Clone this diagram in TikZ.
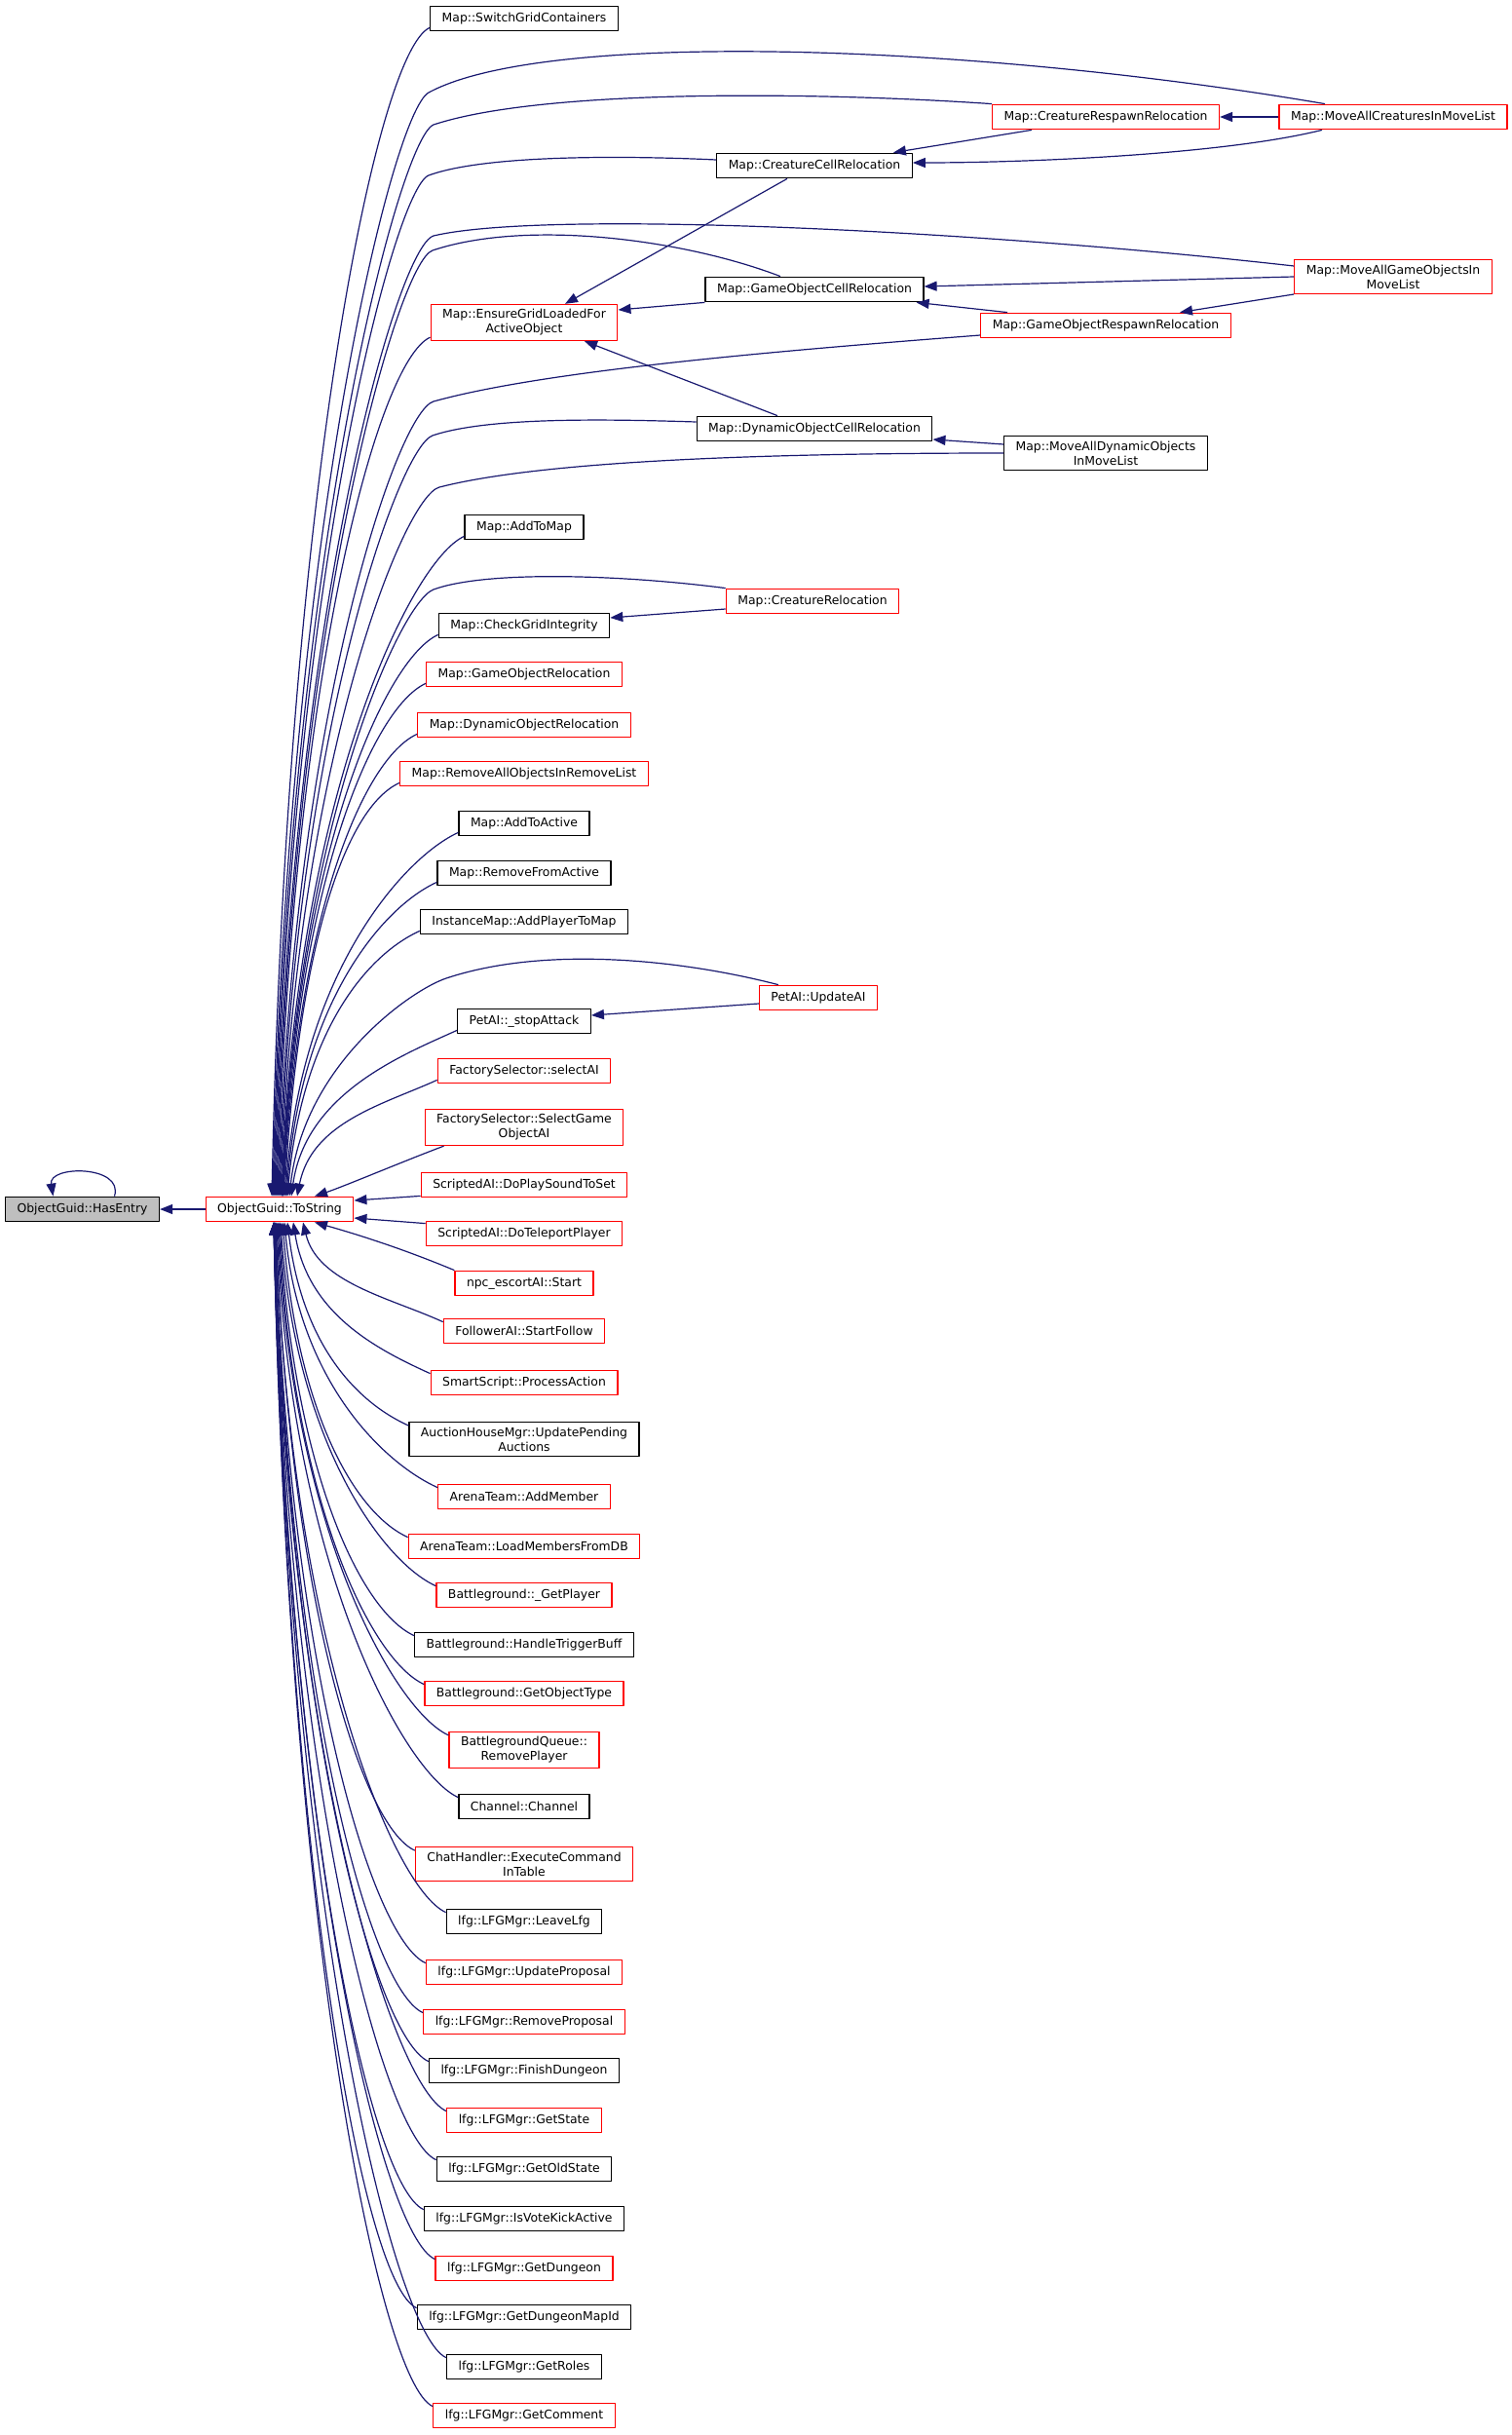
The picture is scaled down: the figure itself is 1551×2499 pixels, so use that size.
\documentclass[tikz,border=0pt]{standalone}
\usepackage{fontspec}
\setmainfont{DejaVu Sans}
\usetikzlibrary{arrows.meta}
\definecolor{edgeblue}{RGB}{25,25,112}
\definecolor{cutred}{RGB}{255,0,0}
\definecolor{selgray}{RGB}{191,191,191}

\begin{document}
\begin{tikzpicture}[x=1pt,y=-1pt,line join=round,
  fn/.style={draw=black,line width=1.3pt,inner xsep=12pt,inner ysep=5pt,minimum height=25.5pt,
    align=center,font=\fontsize{12.4}{15}\selectfont},
  cut/.style={fn,draw=cutred},
  call/.style={draw=edgeblue,line width=1.2pt,-{Triangle[length=13pt,width=10pt]}}]
  \useasboundingbox (0,0) rectangle (1551,2499);
  \def\ca{538}
  \def\cb{836}
  \def\cc{1135}
  \def\cd{1430}

  % the function and its caller
  \node[fn,fill=selgray] (he) at (84.5,1241) {ObjectGuid::HasEntry};
  \node[cut] (ts) at (287,1241) {ObjectGuid::ToString};

  % first column of callers
  \node[fn]  (sgc)  at (\ca,19)   {Map::SwitchGridContainers};
  \node[cut] (egl)  at (\ca,331)  {Map::EnsureGridLoadedFor\\ActiveObject};
  \node[fn]  (atm)  at (\ca,541)  {Map::AddToMap};
  \node[fn]  (cgi)  at (\ca,642)  {Map::CheckGridIntegrity};
  \node[cut] (gor)  at (\ca,692)  {Map::GameObjectRelocation};
  \node[cut] (dor)  at (\ca,744)  {Map::DynamicObjectRelocation};
  \node[cut] (rar)  at (\ca,794)  {Map::RemoveAllObjectsInRemoveList};
  \node[fn]  (ata)  at (\ca,845)  {Map::AddToActive};
  \node[fn]  (rfa)  at (\ca,896)  {Map::RemoveFromActive};
  \node[fn]  (ipm)  at (\ca,946)  {InstanceMap::AddPlayerToMap};
  \node[fn]  (psa)  at (\ca,1048) {PetAI::\_stopAttack};
  \node[cut] (fss)  at (\ca,1099) {FactorySelector::selectAI};
  \node[cut] (fsg)  at (\ca,1157) {FactorySelector::SelectGame\\ObjectAI};
  \node[cut] (dps)  at (\ca,1216) {ScriptedAI::DoPlaySoundToSet};
  \node[cut] (dtp)  at (\ca,1266) {ScriptedAI::DoTeleportPlayer};
  \node[cut] (npc)  at (\ca,1317) {npc\_escortAI::Start};
  \node[cut] (sfo)  at (\ca,1366) {FollowerAI::StartFollow};
  \node[cut] (spa)  at (\ca,1419) {SmartScript::ProcessAction};
  \node[fn]  (ahm)  at (\ca,1477) {AuctionHouseMgr::UpdatePending\\Auctions};
  \node[cut] (atam) at (\ca,1536) {ArenaTeam::AddMember};
  \node[cut] (atlm) at (\ca,1587) {ArenaTeam::LoadMembersFromDB};
  \node[cut] (bgp)  at (\ca,1637) {Battleground::\_GetPlayer};
  \node[fn]  (bgh)  at (\ca,1688) {Battleground::HandleTriggerBuff};
  \node[cut] (bgo)  at (\ca,1738) {Battleground::GetObjectType};
  \node[cut] (bgq)  at (\ca,1796) {BattlegroundQueue::\\RemovePlayer};
  \node[fn]  (chn)  at (\ca,1854) {Channel::Channel};
  \node[cut] (chx)  at (\ca,1913) {ChatHandler::ExecuteCommand\\InTable};
  \node[fn]  (lfl)  at (\ca,1972) {lfg::LFGMgr::LeaveLfg};
  \node[cut] (lup)  at (\ca,2024) {lfg::LFGMgr::UpdateProposal};
  \node[cut] (lrp)  at (\ca,2075) {lfg::LFGMgr::RemoveProposal};
  \node[fn]  (lfd)  at (\ca,2125) {lfg::LFGMgr::FinishDungeon};
  \node[cut] (lgs)  at (\ca,2176) {lfg::LFGMgr::GetState};
  \node[fn]  (lgo)  at (\ca,2226) {lfg::LFGMgr::GetOldState};
  \node[fn]  (lvk)  at (\ca,2277) {lfg::LFGMgr::IsVoteKickActive};
  \node[cut] (lgd)  at (\ca,2328) {lfg::LFGMgr::GetDungeon};
  \node[fn]  (lgm)  at (\ca,2378) {lfg::LFGMgr::GetDungeonMapId};
  \node[fn]  (lgr)  at (\ca,2429) {lfg::LFGMgr::GetRoles};
  \node[cut] (lgc)  at (\ca,2479) {lfg::LFGMgr::GetComment};

  % callers further right
  \node[fn]  (ccr)   at (\cb,170)  {Map::CreatureCellRelocation};
  \node[fn]  (gocr)  at (\cb,297)  {Map::GameObjectCellRelocation};
  \node[fn]  (docr)  at (\cb,440)  {Map::DynamicObjectCellRelocation};
  \node[cut] (cr)    at (834,617)  {Map::CreatureRelocation};
  \node[cut] (uai)   at (840,1024) {PetAI::UpdateAI};
  \node[cut] (crr)   at (\cc,120)  {Map::CreatureRespawnRelocation};
  \node[cut] (gorr)  at (\cc,334)  {Map::GameObjectRespawnRelocation};
  \node[fn]  (madyn) at (\cc,465)  {Map::MoveAllDynamicObjects\\InMoveList};
  \node[cut] (mac)   at (\cd,120)  {Map::MoveAllCreaturesInMoveList};
  \node[cut] (magio) at (\cd,284)  {Map::MoveAllGameObjectsIn\\MoveList};

  \draw[call] (ts) -- (he);
  \draw[call] ([xshift=33pt]he.north) .. controls +(10,-32) and +(-5,-32) .. ([xshift=-30pt]he.north);

  % callers above ToString
  \foreach \n/\e/\h in {sgc/-8/720, egl/-2/529, atm/2/410, cgi/3/350, gor/3.5/320, dor/4/290,
      rar/5/260, ata/6/230, rfa/7/200, ipm/8/168, psa/12/106, fss/18/76}
    \draw[call] ([yshift=4pt]\n.south west) .. controls +(-55,25) and +(15,-\h) .. ([xshift=\e pt]ts.north);
  \draw[call] ([xshift=20pt]fsg.south west) .. controls +(-40,15) and +(30,-10) .. ([xshift=36pt]ts.north);
  \draw[call] ([yshift=2pt]dps.south west) -- ([yshift=9pt]ts.east);

  % long callers arching over from the right
  \draw[call] ([xshift=-70pt]mac.north) .. controls (1000,45) and (560,30) .. (440,95)
    .. controls +(-37,20) and +(15,-680) .. ([xshift=-7pt]ts.north);
  \draw[call] (crr.north west) .. controls (850,95) and (560,90) .. (445,128)
    .. controls +(-35,14) and +(15,-660) .. ([xshift=-6pt]ts.north);
  \draw[call] ([yshift=6pt]ccr.west) .. controls (650,160) and (500,158) .. (440,180)
    .. controls +(-35,13) and +(15,-629) .. ([xshift=-5pt]ts.north);
  \draw[call] ([yshift=11pt]magio.west) .. controls (1000,236) and (560,215) .. (445,242)
    .. controls +(-38,12) and +(15,-592) .. ([xshift=-4pt]ts.north);
  \draw[call] ([xshift=-35pt]gocr.north) .. controls (700,245) and (540,225) .. (444,257)
    .. controls +(-36,12) and +(15,-583) .. ([xshift=-3pt]ts.north);
  \draw[call] ([yshift=-10pt]gorr.west) .. controls (800,360) and (560,380) .. (445,412)
    .. controls +(-38,11) and +(15,-490) .. ([xshift=-1pt]ts.north);
  \draw[call] ([yshift=7pt]docr.west) .. controls (620,430) and (500,428) .. (444,447)
    .. controls +(-35,12) and +(15,-469) .. (ts.north);
  \draw[call] (madyn.west) .. controls (800,465) and (560,472) .. (451,500)
    .. controls +(-38,10) and +(15,-437) .. ([xshift=1pt]ts.north);
  \draw[call] (cr.north west) .. controls (640,590) and (500,585) .. (445,605)
    .. controls +(-35,13) and +(15,-374) .. ([xshift=2.5pt]ts.north);
  \draw[call] ([xshift=20pt]uai.north west) .. controls (700,985) and (560,970) .. (458,1004)
    .. controls +(-36,12) and +(15,-135) .. ([xshift=10pt]ts.north);

  % calls among the Map callers
  \draw[call] (mac.west) -- (crr.east);
  \draw[call] ([xshift=-76pt]crr.south) -- ([xshift=-20pt]ccr.north east);
  \draw[call] ([xshift=-73pt]mac.south) .. controls +(-100,25) and +(120,0) .. ([yshift=3pt]ccr.east);
  \draw[call] ([xshift=-28pt]ccr.south) -- ([xshift=42pt]egl.north);
  \draw[call] (magio.west) -- ([yshift=3pt]gocr.east);
  \draw[call] ([yshift=-18pt]magio.west) -- ([xshift=76pt]gorr.north);
  \draw[call] ([xshift=-101pt]gorr.north) -- ([xshift=-8pt]gocr.south east);
  \draw[call] (gocr.south west) -- ([yshift=13pt]egl.east);
  \draw[call] ([xshift=-38pt]docr.north) -- ([xshift=62pt]egl.south);
  \draw[call] ([yshift=9pt]madyn.west) -- ([yshift=-11pt]docr.east);
  \draw[call] ([yshift=-8pt]cr.west) -- ([yshift=8pt]cgi.east);
  \draw[call] ([yshift=-6pt]uai.west) -- ([yshift=6pt]psa.east);

  % callers below ToString
  \draw[call] ([yshift=-3pt]dtp.north west) -- ([yshift=-9pt]ts.east);
  \draw[call] (npc.north west) .. controls +(-60,-25) and +(35,10) .. ([xshift=36pt]ts.south);
  \foreach \n/\e/\h in {sfo/24/62, spa/14/94, ahm/8/124, atam/5/164, atlm/3/194, bgp/1/225,
      bgh/0/255, bgo/-1/286, bgq/-2/316, chn/-3/355, chx/-4/386, lfl/-4/426, lup/-5/457,
      lrp/-5/487, lfd/-5/518, lgs/-6/548, lgo/-6/578, lvk/-6/609, lgd/-6/639, lgm/-6/670,
      lgr/-6/700, lgc/-6/730}
    \draw[call] ([yshift=-4pt]\n.north west) .. controls +(-55,-25) and +(15,\h) .. ([xshift=\e pt]ts.south);
\end{tikzpicture}
\end{document}
